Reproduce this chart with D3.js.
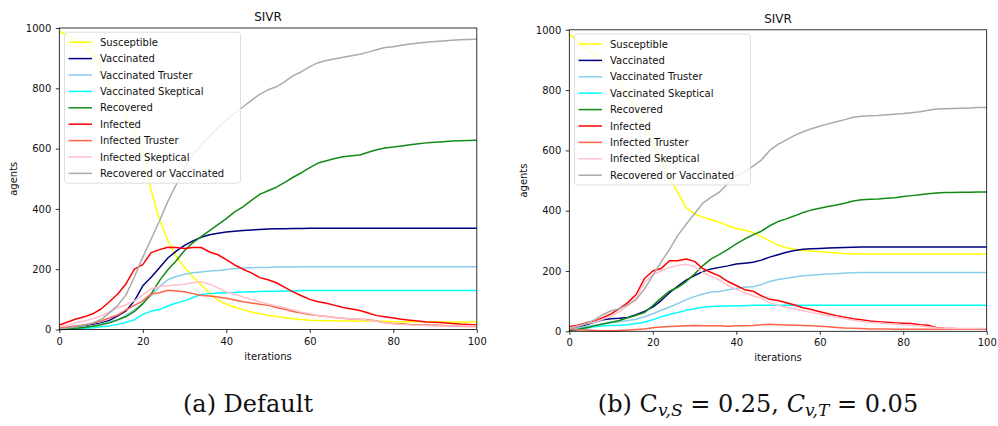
<!DOCTYPE html>
<html>
<head>
<meta charset="utf-8">
<script src="https://cdn.jsdelivr.net/npm/d3@7"></script>
<style>
body { margin: 0; background: #fff; }
text { font-family: "DejaVu Sans", sans-serif; }
</style>
</head>
<body>
<div id="container"></div>
<script>
var iterations = [0, 2, 4, 6, 8, 10, 12, 14, 16, 18, 20, 22, 24, 26, 28, 30, 32, 34, 36, 38, 40,
    42, 44, 46, 48, 50, 52, 54, 56, 58, 60, 62, 64, 66, 68, 70, 72, 74, 76, 78, 80,
    82, 84, 86, 88, 90, 92, 94, 96, 98, 100];

var seriesNames = ['Susceptible', 'Vaccinated', 'Vaccinated Truster', 'Vaccinated Skeptical',
    'Recovered', 'Infected', 'Infected Truster', 'Infected Skeptical', 'Recovered or Vaccinated'];
var seriesColors = ['#ffff00', '#000080', '#87ceeb', '#00ffff', '#138a13',
    '#ff0000', '#ff6347', '#ffc0cb', '#aaaaaa'];

var xTicks = [0, 20, 40, 60, 80, 100];
var yTicks = [0, 200, 400, 600, 800, 1000];

// (a) Default
var aSusceptible = [990, 975, 960, 940, 915, 870, 810, 760, 710, 650, 590, 460, 365, 295, 243, 205, 175, 148, 120, 97,
    84, 74, 66, 58, 52, 47, 43, 39, 36, 33, 31, 30, 29, 29, 28, 28, 28, 27, 27, 27, 26, 26, 26, 26, 26, 26, 25, 25, 25, 25, 25];
var aVaccinated = [2, 5, 8, 12, 17, 22, 30, 45, 62, 95, 145, 173, 205, 237, 260, 279, 294, 306, 314, 319,
    323, 326, 328, 330, 332, 333, 334, 334, 335, 335, 336, 336, 336, 336, 336, 336, 336, 336, 336, 336,
    336, 336, 336, 336, 336, 336, 336, 336, 336, 336, 336];
var aVaccTruster = [1, 3, 5, 8, 12, 18, 26, 32, 48, 65, 88, 112, 142, 165, 176, 183, 188, 191, 194, 196,
    199, 202, 204, 205, 206, 206, 207, 207, 207, 208, 208, 208, 208, 208, 208, 208, 208, 208, 208, 208,
    208, 208, 208, 208, 208, 208, 208, 208, 208, 208, 208];
var aVaccSkeptical = [0, 1, 2, 4, 6, 9, 12, 17, 24, 32, 50, 61, 66, 78, 88, 95, 106, 116, 119, 121,
    122, 123, 124, 125, 126, 127, 127, 128, 128, 129, 129, 129, 129, 129, 129, 129, 129, 129, 129, 129,
    129, 129, 129, 129, 129, 129, 129, 129, 129, 129, 129];
var aRecovered = [0, 2, 4, 7, 11, 16, 22, 32, 43, 60, 85, 118, 162, 198, 228, 262, 288, 308, 328, 348,
    368, 390, 407, 428, 448, 460, 472, 488, 505, 520, 537, 552, 560, 567, 573, 576, 579, 588, 596, 602,
    605, 609, 613, 616, 619, 621, 623, 625, 626, 627, 628];
var aInfected = [15, 25, 35, 42, 52, 68, 92, 118, 152, 200, 215, 255, 265, 273, 272, 269, 272, 272, 257, 248,
    232, 214, 200, 188, 172, 165, 155, 140, 125, 112, 100, 92, 87, 80, 73, 68, 63, 55, 46, 42,
    38, 34, 31, 28, 25, 24, 22, 20, 18, 17, 15];
var aInfTruster = [5, 8, 12, 16, 20, 28, 38, 48, 65, 80, 95, 118, 122, 130, 128, 125, 119, 113, 111, 108,
    104, 98, 92, 88, 84, 80, 73, 67, 60, 55, 50, 46, 43, 40, 37, 35, 34, 32, 28, 22,
    20, 19, 17, 16, 15, 14, 13, 12, 11, 10, 10];
var aInfSkeptical = [9, 15, 22, 28, 36, 45, 58, 72, 82, 95, 115, 135, 142, 145, 148, 150, 155, 158, 150, 138,
    125, 118, 108, 100, 92, 85, 78, 72, 65, 57, 52, 46, 43, 40, 37, 35, 34, 31, 27, 22,
    19, 17, 15, 14, 13, 12, 12, 12, 12, 12, 12];
var aRecOrVacc = [2, 5, 9, 14, 22, 33, 55, 80, 115, 175, 240, 300, 360, 425, 480, 535, 580, 612, 640, 668,
    695, 718, 738, 760, 780, 795, 805, 822, 842, 855, 872, 885, 892, 898, 903, 908, 913, 920, 928, 935,
    938, 943, 947, 950, 953, 955, 957, 959, 961, 962, 963];

// (b) C_v,S = 0.25, C_v,T = 0.05
var bSusceptible = [985, 965, 940, 915, 895, 875, 830, 780, 740, 680, 625, 570, 510, 460, 410, 390, 378, 370, 362, 350,
    340, 336, 328, 314, 300, 286, 277, 272, 268, 266, 264, 262, 260, 258, 257, 256, 256, 256, 256, 256,
    256, 256, 256, 256, 256, 256, 256, 256, 256, 256, 256];
var bVaccinated = [6, 14, 22, 30, 38, 42, 43, 46, 55, 66, 80, 102, 128, 150, 170, 185, 198, 207, 212, 217,
    223, 226, 229, 236, 246, 254, 262, 268, 272, 274, 275, 276, 277, 278, 279, 280, 280, 280, 280, 280,
    280, 280, 280, 280, 280, 280, 280, 280, 280, 280, 280];
var bVaccTruster = [5, 10, 15, 20, 24, 28, 32, 36, 40, 48, 58, 70, 80, 92, 105, 115, 124, 130, 132, 138,
    142, 146, 148, 155, 165, 172, 176, 180, 184, 186, 188, 190, 191, 193, 194, 195, 195, 195, 195, 195,
    195, 195, 195, 195, 195, 195, 195, 195, 195, 195, 195];
var bVaccSkeptical = [3, 6, 10, 15, 18, 19, 20, 22, 26, 30, 38, 48, 56, 62, 70, 75, 80, 82, 83, 84,
    85, 85, 86, 86, 86, 86, 86, 86, 86, 86, 86, 86, 86, 86, 86, 86, 86, 86, 86, 86,
    86, 86, 86, 86, 86, 86, 86, 86, 86, 86, 86];
var bRecovered = [2, 6, 12, 18, 24, 30, 36, 45, 53, 62, 85, 110, 133, 146, 165, 190, 218, 240, 255, 272,
    290, 306, 320, 332, 350, 364, 373, 383, 394, 402, 408, 414, 419, 425, 432, 436, 438, 439, 441, 443,
    447, 450, 453, 456, 459, 460, 460, 461, 461, 462, 462];
var bInfected = [15, 20, 28, 33, 45, 58, 75, 95, 122, 175, 200, 208, 234, 234, 240, 232, 208, 195, 183, 165,
    152, 138, 133, 118, 106, 102, 95, 87, 78, 72, 65, 58, 52, 47, 42, 38, 34, 32, 30, 28,
    27, 26, 22, 20, 12, 10, 9, 8, 8, 7, 7];
var bInfTruster = [7, 5, 4, 3, 2, 2, 3, 4, 6, 8, 12, 14, 16, 17, 18, 19, 18, 18, 18, 17,
    18, 18, 19, 22, 23, 22, 21, 20, 19, 18, 17, 15, 13, 11, 10, 9, 8, 8, 8, 7,
    7, 7, 7, 7, 7, 7, 7, 7, 7, 7, 7];
var bInfSkeptical = [10, 18, 25, 30, 40, 50, 65, 85, 112, 160, 188, 200, 212, 218, 222, 215, 195, 182, 170, 152,
    140, 128, 118, 110, 95, 86, 80, 73, 68, 62, 57, 52, 47, 42, 37, 33, 30, 28, 26, 24,
    22, 20, 18, 15, 11, 10, 9, 9, 9, 9, 9];
var bRecOrVacc = [8, 15, 25, 38, 55, 68, 75, 88, 105, 140, 185, 230, 272, 318, 355, 390, 425, 445, 462, 490,
    515, 528, 548, 568, 600, 620, 635, 650, 662, 672, 680, 688, 695, 702, 710, 713, 715, 716, 718, 720,
    722, 725, 728, 733, 737, 738, 739, 740, 741, 742, 742];

var width = 998,
    height = 426;

var svg = d3.select('#container')
    .append('svg')
    .attr('width', width)
    .attr('height', height);

var panels = [
    {left: 59.3, right: 476.8, top: 28, bottom: 329.5,
     series: [aSusceptible, aVaccinated, aVaccTruster, aVaccSkeptical, aRecovered,
              aInfected, aInfTruster, aInfSkeptical, aRecOrVacc]},
    {left: 569.3, right: 986.7, top: 29.8, bottom: 331.3,
     series: [bSusceptible, bVaccinated, bVaccTruster, bVaccSkeptical, bRecovered,
              bInfected, bInfTruster, bInfSkeptical, bRecOrVacc]}
];

panels.forEach(function(p, n) {
    var g = svg.append('g');

    var scaleX = d3.scaleLinear()
        .domain([0, 100])
        .range([p.left, p.right]);

    var scaleY = d3.scaleLinear()
        .domain([0, 1000])
        .range([p.bottom, p.top]);

    var line = d3.line()
        .x(function(d, i) { return scaleX(iterations[i]); })
        .y(function(d) { return scaleY(d); });

    p.series.forEach(function(s, k) {
        g.append('path')
            .datum(s)
            .attr('d', line)
            .attr('fill', 'none')
            .attr('stroke', seriesColors[k])
            .attr('stroke-width', 1.5)
            .attr('stroke-linejoin', 'round');
    });

    // axes
    var ax = g.append('g')
        .attr('transform', 'translate(0,' + p.bottom + ')')
        .call(d3.axisBottom(scaleX).tickValues(xTicks).tickFormat(d3.format('d'))
            .tickSize(3.5).tickPadding(4.5));
    var ay = g.append('g')
        .attr('transform', 'translate(' + p.left + ',0)')
        .call(d3.axisLeft(scaleY).tickValues(yTicks).tickFormat(d3.format('d'))
            .tickSize(3.5).tickPadding(4.5));
    [ax, ay].forEach(function(a) {
        a.select('.domain').remove();
        a.selectAll('line').attr('stroke', '#000').attr('stroke-width', 0.8);
        a.selectAll('text')
            .attr('fill', '#111')
            .style('font-size', '10px')
            .style('font-family', '"DejaVu Sans", sans-serif');
    });

    g.append('rect')
        .attr('x', p.left)
        .attr('y', p.top)
        .attr('width', p.right - p.left)
        .attr('height', p.bottom - p.top)
        .attr('fill', 'none')
        .attr('stroke', '#000')
        .attr('stroke-width', 0.8);

    var cx = (p.left + p.right) / 2;
    g.append('text')
        .attr('x', cx)
        .attr('y', p.top - 7)
        .attr('text-anchor', 'middle')
        .style('font-size', '12px')
        .attr('fill', '#111')
        .text('SIVR');

    g.append('text')
        .attr('x', cx)
        .attr('y', p.bottom + 30)
        .attr('text-anchor', 'middle')
        .style('font-size', '10px')
        .attr('fill', '#111')
        .text('iterations');

    g.append('text')
        .attr('transform', 'translate(' + (p.left - 42) + ',' + ((p.top + p.bottom) / 2) + ') rotate(-90)')
        .attr('text-anchor', 'middle')
        .style('font-size', '10px')
        .attr('fill', '#111')
        .text('agents');

    // legend
    var lx = p.left + 5.2,
        ly = p.top + 4.2,
        rowH = 16.4;
    var legend = g.append('g');
    legend.append('rect')
        .attr('x', lx)
        .attr('y', ly)
        .attr('width', 176)
        .attr('height', 151)
        .attr('rx', 3)
        .attr('fill', '#fff')
        .attr('fill-opacity', 0.8)
        .attr('stroke', '#d6d6d6')
        .attr('stroke-width', 0.8);
    var item = legend.selectAll('.item')
        .data(seriesNames)
        .enter()
        .append('g')
        .attr('transform', function(d, i) {
            return 'translate(' + lx + ',' + (ly + 10 + i * rowH) + ')';
        });
    item.append('line')
        .attr('x1', 4)
        .attr('x2', 27.5)
        .attr('stroke', function(d, i) { return seriesColors[i]; })
        .attr('stroke-width', 1.5);
    item.append('text')
        .attr('x', 35.5)
        .attr('dy', '0.35em')
        .style('font-size', '10px')
        .attr('fill', '#111')
        .text(function(d) { return d; });
});

// captions
var capStyle = function(t) {
    return t.style('font-family', '"DejaVu Serif", serif')
        .style('font-size', '24px')
        .attr('fill', '#111')
        .attr('text-anchor', 'middle');
};

capStyle(svg.append('text')
    .attr('x', 248)
    .attr('y', 412))
    .text('(a) Default');

var capB = capStyle(svg.append('text')
    .attr('x', 758)
    .attr('y', 412));
capB.append('tspan').text('(b) C');
capB.append('tspan').attr('dy', 4).style('font-size', '17px').style('font-style', 'italic').text('v,S');
capB.append('tspan').attr('dy', -4).text(' = 0.25, ');
capB.append('tspan').style('font-style', 'italic').text('C');
capB.append('tspan').attr('dy', 4).style('font-size', '17px').style('font-style', 'italic').text('v,T');
capB.append('tspan').attr('dy', -4).text(' = 0.05');
</script>
</body>
</html>
